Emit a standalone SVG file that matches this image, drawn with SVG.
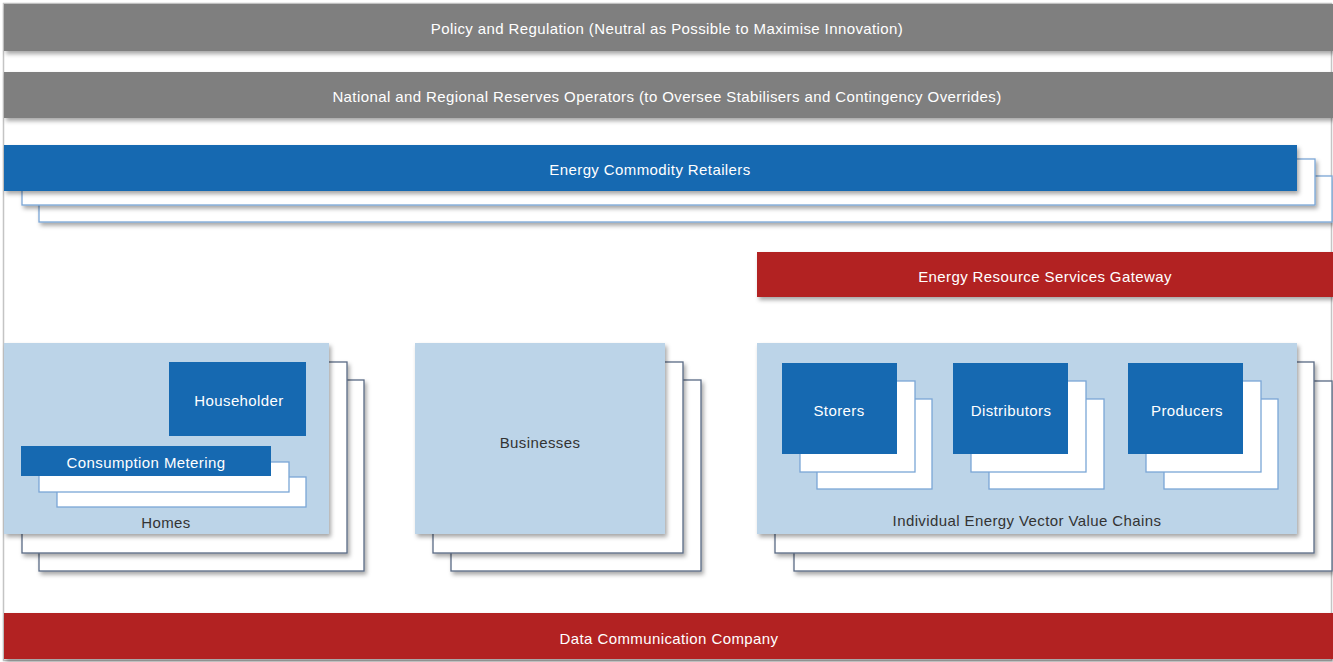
<svg xmlns="http://www.w3.org/2000/svg" width="1333" height="662" viewBox="0 0 1333 662">
<defs>
<filter id="sh" x="-5%" y="-20%" width="110%" height="150%">
<feDropShadow dx="2" dy="3" stdDeviation="2" flood-color="#000" flood-opacity="0.35"/>
</filter>
<style>
.gray{fill:#7f7f7f;}
.blue{fill:#1669b1;}
.red{fill:#b22024;}
.light{fill:#bcd4e8;}
.copyDark{fill:#fff;stroke:#5a6a85;stroke-width:1.3;}
.copyLight{fill:#fff;stroke:#7aa6d6;stroke-width:1.3;}
.t{font-family:"Liberation Sans",Arial,sans-serif;font-size:15px;letter-spacing:0.4px;text-anchor:middle;dominant-baseline:central;}
.w{fill:#fff;}
.d{fill:#333;}
</style>
</defs>
<rect x="0" y="0" width="1333" height="662" fill="#fff"/>
<rect x="3.5" y="3.5" width="1328" height="657" fill="none" stroke="#c4c4c4" stroke-width="1.5"/>

<g id="policy">
<rect class="gray" x="4" y="4" width="1329" height="47" filter="url(#sh)"/>
<text class="t w" x="667" y="28">Policy and Regulation (Neutral as Possible to Maximise Innovation)</text>
</g>

<g id="reserves">
<rect class="gray" x="4" y="72" width="1329" height="46" filter="url(#sh)"/>
<text class="t w" x="667" y="96">National and Regional Reserves Operators (to Oversee Stabilisers and Contingency Overrides)</text>
</g>

<g id="retailers">
<rect class="copyLight" x="39" y="176" width="1293" height="46" filter="url(#sh)"/>
<rect class="copyLight" x="22" y="159" width="1293" height="46" filter="url(#sh)"/>
<rect class="blue" x="4" y="145" width="1293" height="46" filter="url(#sh)"/>
<text class="t w" x="650" y="169">Energy Commodity Retailers</text>
</g>

<g id="gateway">
<rect class="red" x="757" y="252" width="576" height="45" filter="url(#sh)"/>
<text class="t w" x="1045" y="276">Energy Resource Services Gateway</text>
</g>

<g id="homes">
<rect class="copyDark" x="39" y="380" width="325" height="191" filter="url(#sh)"/>
<rect class="copyDark" x="22" y="362" width="325" height="191" filter="url(#sh)"/>
<rect class="light" x="4" y="343" width="325" height="191" filter="url(#sh)"/>
<text class="t d" x="166" y="522">Homes</text>
</g>

<g id="householder">
<rect class="blue" x="169" y="362" width="137" height="74"/>
<text class="t w" x="239" y="400">Householder</text>
</g>

<g id="consumption-metering">
<rect class="copyLight" x="57" y="477" width="249" height="30"/>
<rect class="copyLight" x="39" y="462" width="250" height="30"/>
<rect class="blue" x="21" y="446" width="250" height="30"/>
<text class="t w" x="146" y="462">Consumption Metering</text>
</g>

<g id="businesses">
<rect class="copyDark" x="451" y="380" width="250" height="191" filter="url(#sh)"/>
<rect class="copyDark" x="433" y="362" width="250" height="191" filter="url(#sh)"/>
<rect class="light" x="415" y="343" width="250" height="191" filter="url(#sh)"/>
<text class="t d" x="540" y="442">Businesses</text>
</g>

<g id="value-chains">
<rect class="copyDark" x="794" y="381" width="538" height="190" filter="url(#sh)"/>
<rect class="copyDark" x="775" y="362" width="539" height="191" filter="url(#sh)"/>
<rect class="light" x="757" y="343" width="540" height="191" filter="url(#sh)"/>
<text class="t d" x="1027" y="520">Individual Energy Vector Value Chains</text>
</g>

<g id="storers">
<rect class="copyLight" x="817" y="399" width="115" height="90"/>
<rect class="copyLight" x="800" y="381" width="115" height="91"/>
<rect class="blue" x="782" y="363" width="115" height="91"/>
<text class="t w" x="839" y="410">Storers</text>
</g>

<g id="distributors">
<rect class="copyLight" x="989" y="399" width="115" height="90"/>
<rect class="copyLight" x="971" y="381" width="115" height="91"/>
<rect class="blue" x="953" y="363" width="115" height="91"/>
<text class="t w" x="1011" y="410">Distributors</text>
</g>

<g id="producers">
<rect class="copyLight" x="1164" y="399" width="114" height="90"/>
<rect class="copyLight" x="1146" y="381" width="115" height="91"/>
<rect class="blue" x="1128" y="363" width="115" height="91"/>
<text class="t w" x="1187" y="410">Producers</text>
</g>

<g id="data-communication-company">
<rect class="red" x="4" y="613" width="1329" height="46" filter="url(#sh)"/>
<text class="t w" x="669" y="638">Data Communication Company</text>
</g>
</svg>
